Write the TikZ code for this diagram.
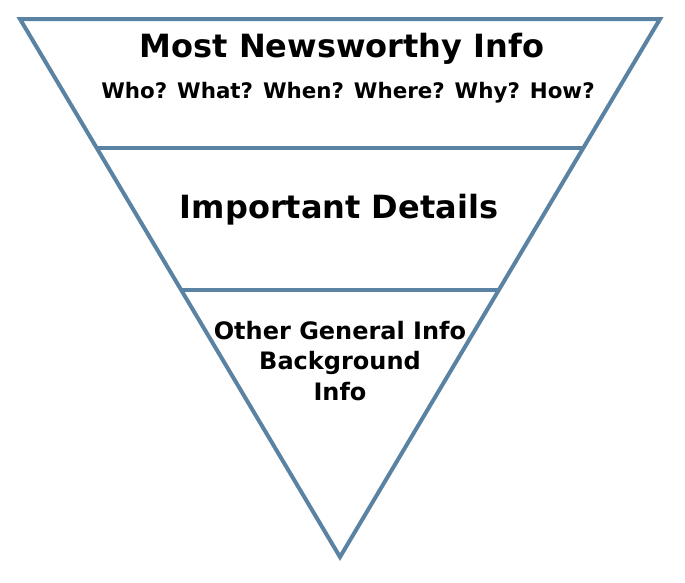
\documentclass[tikz,border=0pt]{standalone}
\usepackage{fontspec}
\setmainfont{DejaVu Sans}
\usetikzlibrary{calc}
\definecolor{pyrblue}{HTML}{5A82A3}

\begin{document}
\begin{tikzpicture}[
 x=1pt, y=-1pt,
 edge/.style={draw=pyrblue, line width=4pt, line join=miter},
 head/.style={font=\fontsize{32}{38}\selectfont\bfseries, inner sep=0pt},
 sub/.style={font=\fontsize{21.4}{25}\selectfont\bfseries, inner sep=0pt},
 body/.style={font=\fontsize{24}{30.5}\selectfont\bfseries, align=center, inner sep=0pt},
]
\useasboundingbox (0,0) rectangle (685,582);
\coordinate (tl) at (20,19);
\coordinate (tr) at (660,19);
\coordinate (apex) at (340,557);

% outline
\draw[edge] (tl) -- (tr) -- (apex) -- cycle;

% dividers
\coordinate (l1) at ($(tl)!0.24!(apex)$);
\coordinate (r1) at ($(tr)!0.24!(apex)$);
\coordinate (l2) at ($(tl)!0.504!(apex)$);
\coordinate (r2) at ($(tr)!0.504!(apex)$);
\draw[edge] (l1) -- (r1);
\draw[edge] (l2) -- (r2);

\node[head] (top) at (342,49) {Most Newsworthy Info};
\node[sub] (ask) at (348,93) {Who? What? When? Where? Why? How?};
\node[head] (mid) at (339,210) {Important Details};
\node[body] (low) at (340,361) {Other General Info\\Background\\Info};

\end{tikzpicture}
\end{document}
